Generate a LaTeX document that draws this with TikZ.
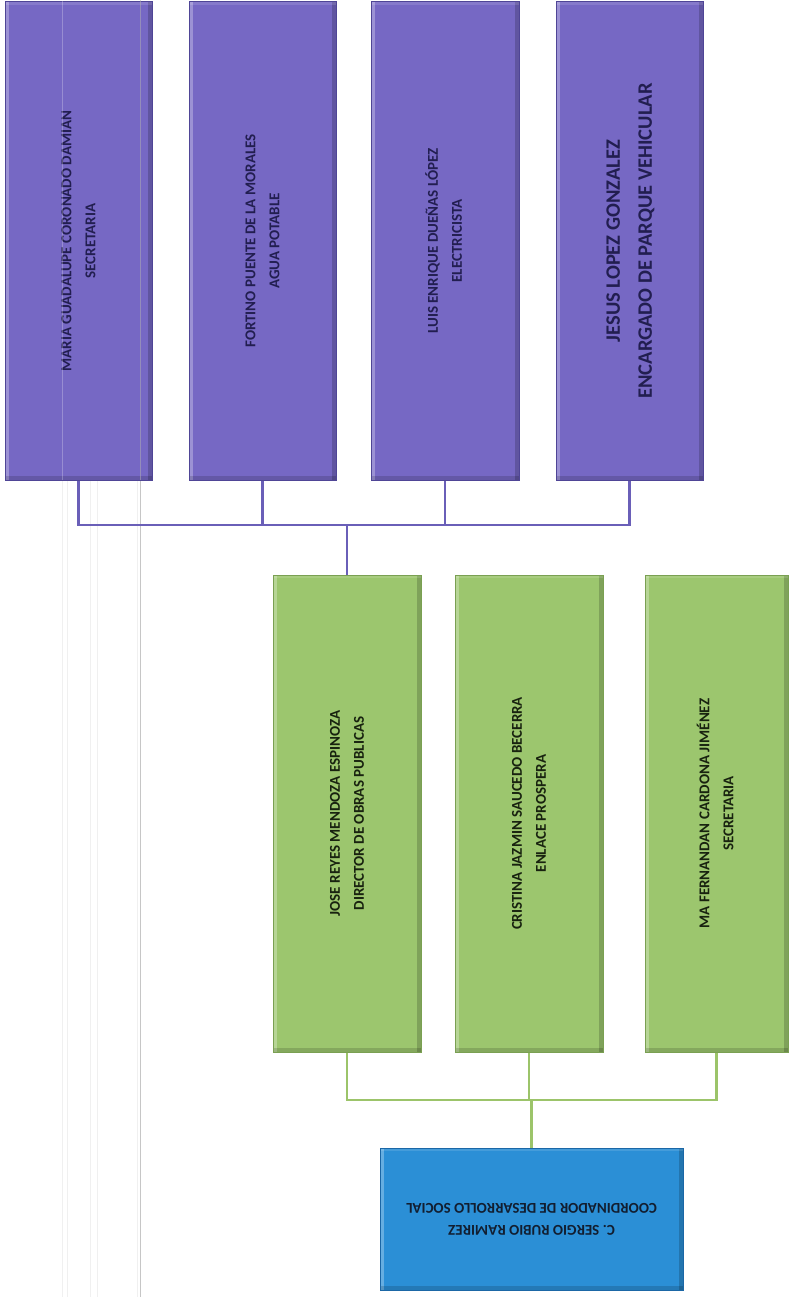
\documentclass[tikz,border=0pt]{standalone}
\usepackage{fontspec}
\setmainfont{Carlito}
\usepackage{graphicx}
\definecolor{pfill}{HTML}{7668C4}
\definecolor{pedge}{HTML}{4F4596}
\definecolor{ptext}{HTML}{221E50}
\definecolor{gfill}{HTML}{9CC66E}
\definecolor{gedge}{HTML}{7AA052}
\definecolor{gtext}{HTML}{18220F}
\definecolor{bfill}{HTML}{2B8FD6}
\definecolor{bedge}{HTML}{1B67A6}
\definecolor{btext}{HTML}{121E30}
\definecolor{pline}{HTML}{6A5FB8}
\definecolor{gline}{HTML}{9CC46A}
\newcommand{\twolines}[2]{\begin{tabular}{@{}c@{}}#1\\#2\end{tabular}}
\tikzset{
  bevel/.style={path picture={
    \fill[white, opacity=0.28] (path picture bounding box.north west) rectangle ([xshift=4pt]path picture bounding box.south west);
    \fill[black, opacity=0.18] ([xshift=-4pt]path picture bounding box.north east) rectangle (path picture bounding box.south east);
    \fill[black, opacity=0.15] ([yshift=4pt]path picture bounding box.south west) rectangle (path picture bounding box.south east);
    \fill[white, opacity=0.12] (path picture bounding box.north west) rectangle ([yshift=-3pt]path picture bounding box.north east);
  }},
  pbox/.style={rectangle, bevel, fill=pfill, draw=pedge, line width=1pt, minimum width=147pt, minimum height=478pt, inner sep=0pt, text=ptext, font=\bfseries\fontsize{15}{24}\selectfont},
  gbox/.style={rectangle, bevel, fill=gfill, draw=gedge, line width=1pt, minimum width=148pt, minimum height=477pt, inner sep=0pt, text=gtext, font=\bfseries\fontsize{15}{24}\selectfont},
  bbox/.style={rectangle, bevel, fill=bfill, draw=bedge, line width=1pt, minimum width=303pt, minimum height=142pt, inner sep=0pt, text=btext, font=\bfseries\fontsize{15}{22}\selectfont},
  plink/.style={draw=pline, line width=2.5pt},
  glink/.style={draw=gline, line width=2.5pt},
  scanline/.style={line width=1pt}
}
\begin{document}
\begin{tikzpicture}[x=1pt,y=-1pt]
\useasboundingbox[fill=white] (0,0) rectangle (789,1297);
% faint scan lines on the left
\foreach \xx in {62,67,90,97,137}{\draw[scanline, draw=gray!12] (\xx,480) -- (\xx,1297);}
\draw[scanline, draw=gray!45] (140,480) -- (140,1297);
% top row (purple)
\node[pbox] (p1) at (78.5,241) {\rotatebox{90}{\twolines{MARIA GUADALUPE CORONADO DAMIAN}{SECRETARIA}}};
\node[pbox] (p2) at (262.5,241) {\rotatebox{90}{\twolines{FORTINO PUENTE DE LA MORALES}{AGUA POTABLE}}};
\node[pbox, minimum width=148pt] (p3) at (445,241) {\rotatebox{90}{\twolines{LUIS ENRIQUE DUEÑAS LÓPEZ}{ELECTRICISTA}}};
\node[pbox, font=\bfseries\fontsize{20.5}{32}\selectfont] (p4) at (629.5,241) {\rotatebox{90}{\twolines{JESUS LOPEZ GONZALEZ}{ENCARGADO DE PARQUE VEHICULAR}}};
% middle row (green)
\node[gbox] (g1) at (347,813.5) {\rotatebox{90}{\twolines{JOSE REYES MENDOZA ESPINOZA}{DIRECTOR DE OBRAS PUBLICAS}}};
\node[gbox] (g2) at (529,813.5) {\rotatebox{90}{\twolines{CRISTINA JAZMIN SAUCEDO BECERRA}{ENLACE PROSPERA}}};
\node[gbox, minimum width=143pt] (g3) at (716.5,813.5) {\rotatebox{90}{\twolines{MA FERNANDAN CARDONA JIMÉNEZ}{SECRETARIA}}};
% bottom (blue)
\node[bbox] (b) at (531.5,1219) {\rotatebox{180}{\twolines{C. SERGIO RUBIO RAMIREZ}{COORDINADOR DE DESARROLLO SOCIAL}}};
% scan line over the first box
\draw[scanline, draw=gray!60, opacity=0.5] (140,0) -- (140,480);
\draw[scanline, draw=white, opacity=0.25] (62,0) -- (62,480);
% purple connectors
\coordinate (pbus) at (347,525);
\draw[plink] (p1.south) |- (pbus) -| (p4.south);
\draw[plink] (p2.south) -- (p2.south |- pbus);
\draw[plink] (p3.south) -- (p3.south |- pbus);
\draw[plink] (pbus) -- (g1.north);
% green connectors
\coordinate (gbus) at (531.5,1100);
\draw[glink] (g1.south) |- (gbus) -| (g3.south);
\draw[glink] (g2.south) -- (g2.south |- gbus);
\draw[glink] (gbus) -- (b.north);
\end{tikzpicture}
\end{document}
